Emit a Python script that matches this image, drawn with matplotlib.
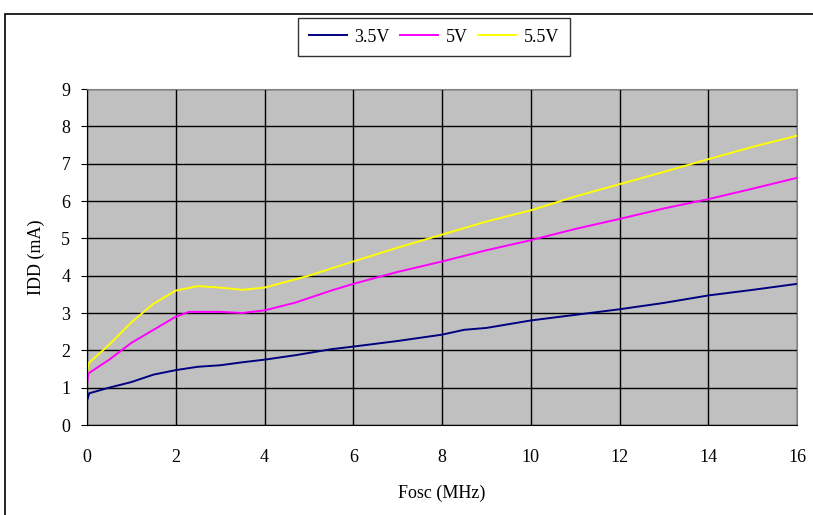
import matplotlib.pyplot as plt
from matplotlib.patches import Rectangle

# donnees
fosc_35 = [0, 0.05, 0.5, 1, 1.5, 2, 2.5, 3, 3.5, 4, 4.7, 5.5, 6, 7, 8, 8.5, 9, 10, 11, 12, 13, 14, 15, 16]
idd_35 = [0.65, 0.85, 1.0, 1.15, 1.35, 1.47, 1.56, 1.6, 1.68, 1.75, 1.87, 2.03, 2.1, 2.25, 2.42, 2.55, 2.6, 2.8, 2.95, 3.1, 3.27, 3.47, 3.62, 3.78]

fosc_5 = [0, 0.03, 0.5, 1, 1.5, 2, 2.3, 3, 3.5, 4, 4.7, 5.5, 6, 7, 8, 9, 10, 11, 12, 13, 14, 15, 16]
idd_5 = [1.1, 1.38, 1.75, 2.2, 2.55, 2.9, 3.03, 3.03, 3.0, 3.07, 3.28, 3.6, 3.78, 4.1, 4.38, 4.68, 4.95, 5.25, 5.52, 5.8, 6.05, 6.33, 6.62]

fosc_55 = [0, 0.03, 0.5, 1, 1.5, 2, 2.5, 3, 3.5, 4, 5, 6, 7, 8, 9, 10, 11, 12, 13, 14, 15, 16]
idd_55 = [1.35, 1.65, 2.15, 2.75, 3.25, 3.6, 3.72, 3.68, 3.62, 3.68, 4.0, 4.38, 4.75, 5.1, 5.45, 5.75, 6.12, 6.45, 6.78, 7.12, 7.45, 7.75]

labels = ['3.5V', '5V', '5.5V']
couleurs = ['#000080', '#FF00FF', '#FFFF00']

plt.rcParams['font.family'] = ['Liberation Serif', 'DejaVu Serif']

fig = plt.figure(figsize=(8.13, 5.15), dpi=100)
ax = fig.add_axes([87 / 813, 90 / 515, 710 / 813, 336 / 515])

# cadre exterieur
fig.patches.append(Rectangle((5 / 813, -0.1), 1.2, (515 - 14) / 515 + 0.1,
                             transform=fig.transFigure, fill=False,
                             edgecolor='black', linewidth=1.2))

for x, y, lab, c in zip([fosc_35, fosc_5, fosc_55], [idd_35, idd_5, idd_55], labels, couleurs):
    ax.plot(x, y, color=c, linewidth=1.4, label=lab)

ax.set_facecolor('#C0C0C0')
ax.set_xlim(0, 16)
ax.set_ylim(0, 9)
ax.set_xticks(range(0, 17, 2))
ax.set_yticks(range(0, 10))
ax.grid(True, color='black', linewidth=1)
ax.set_axisbelow(True)
ax.tick_params(axis='x', length=0, pad=17, labelsize=13)
ax.tick_params(axis='y', length=4, direction='out', pad=8, labelsize=13)
for s in ['top', 'right']:
    ax.spines[s].set_color('#808080')
for s in ['left', 'bottom']:
    ax.spines[s].set_color('black')

ax.set_xlabel('Fosc (MHz)', fontsize=13, labelpad=14)
ax.set_ylabel('IDD (mA)', fontsize=13, labelpad=12)

leg = fig.legend(loc='center', bbox_to_anchor=(434 / 813, 1 - 37 / 515), ncol=3,
                 fontsize=13, frameon=True, fancybox=False, handlelength=2.1,
                 handletextpad=0.4, columnspacing=0.6, borderpad=0.6)
leg.get_frame().set_edgecolor('black')
leg.get_frame().set_linewidth(1)

fig.savefig('out.png', dpi=100)
